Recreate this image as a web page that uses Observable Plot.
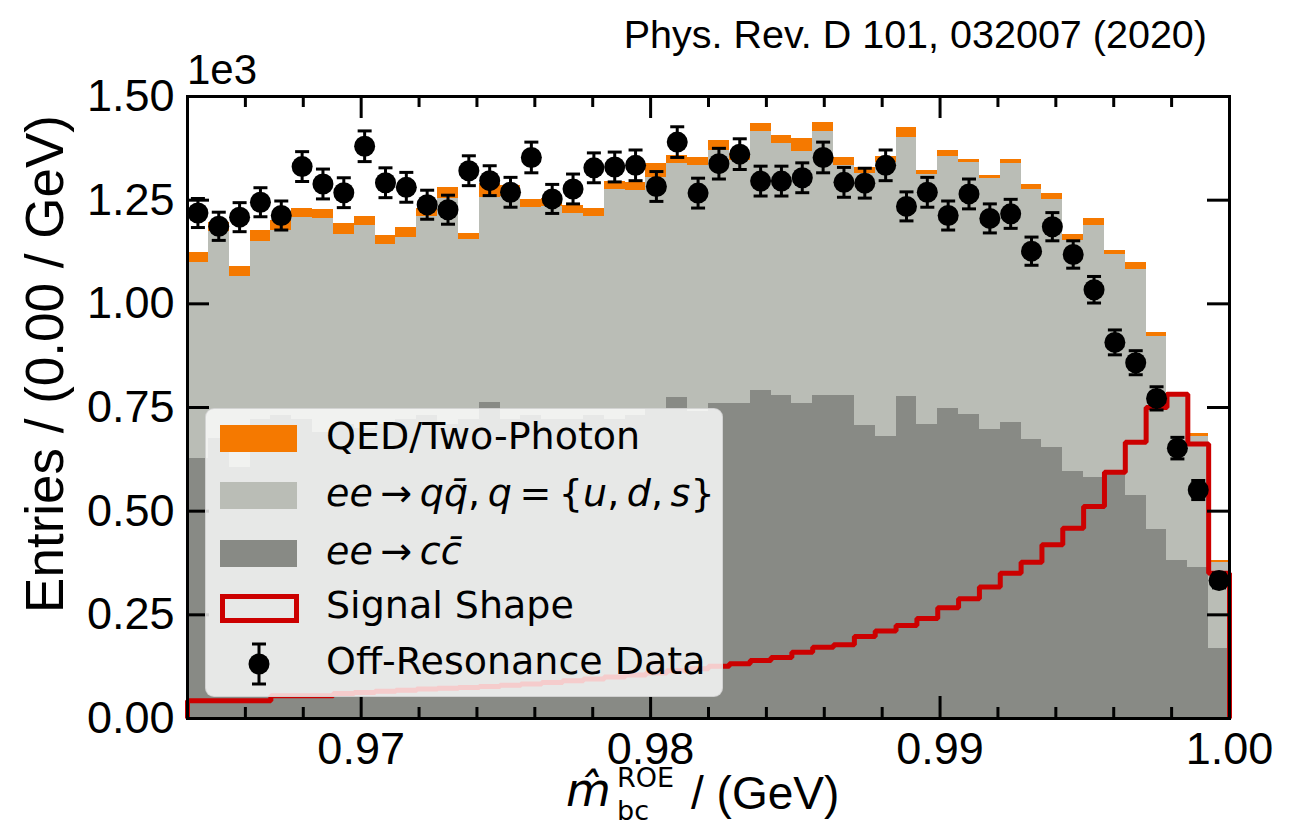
<!DOCTYPE html>
<html><head><meta charset="utf-8">
<script src="https://cdn.jsdelivr.net/npm/d3@7"></script>
<script src="https://cdn.jsdelivr.net/npm/@observablehq/plot@0.6"></script>
<style>
body{margin:0;background:#fff;}
#wrap{position:relative;width:1306px;height:838px;overflow:hidden;}
.ov{position:absolute;white-space:nowrap;color:#000;}
.sans{font-family:"Liberation Sans",Arial,sans-serif;}
.dv{font-family:"DejaVu Sans",sans-serif;}
.it{font-style:italic;}
#legend{position:absolute;left:205px;top:408px;width:518px;height:289px;box-sizing:border-box;background:rgba(255,255,255,0.8);border:1.5px solid rgba(204,204,204,0.8);border-radius:9px;}
.row{position:absolute;left:0;height:40px;width:100%;}
.sw{position:absolute;left:14px;top:6px;}
.lt{position:absolute;left:120px;top:-4px;font-family:"DejaVu Sans",sans-serif;font-size:38px;line-height:42px;white-space:nowrap;}
</style></head><body><div id="wrap"></div>
<script>
// histogram binning (x in GeV)
const binStart = 0.964;
const binWidth = 0.00072;
// stacked backgrounds, entries in units of 1e3 per bin
const ccBkg  = [0.627,0.675,0.606,0.720,0.730,0.720,0.690,0.710,0.700,0.710,0.720,0.730,0.710,0.720,0.763,0.720,0.730,0.720,0.720,0.730,0.720,0.730,0.745,0.775,0.740,0.760,0.760,0.791,0.779,0.760,0.779,0.778,0.707,0.681,0.777,0.709,0.747,0.733,0.698,0.713,0.673,0.653,0.596,0.582,0.590,0.538,0.456,0.381,0.363,0.170];
const qqBkg  = [0.472,0.500,0.460,0.431,0.447,0.489,0.515,0.456,0.489,0.433,0.441,0.481,0.543,0.434,0.494,0.538,0.503,0.515,0.499,0.480,0.556,0.543,0.560,0.564,0.594,0.610,0.585,0.624,0.608,0.608,0.637,0.556,0.608,0.660,0.625,0.602,0.609,0.607,0.605,0.626,0.602,0.599,0.557,0.607,0.529,0.546,0.466,0.401,0.317,0.207];
const qedBkg = [0.024,0.020,0.025,0.026,0.025,0.020,0.023,0.027,0.022,0.022,0.022,0.018,0.028,0.015,0.032,0.027,0.019,0.020,0.018,0.021,0.019,0.019,0.033,0.019,0.018,0.025,0.017,0.019,0.019,0.030,0.021,0.018,0.014,0.015,0.024,0.010,0.014,0.009,0.006,0.010,0.012,0.013,0.013,0.016,0.009,0.015,0.008,0.004,0.007,0.004];
const signal = [0.043,0.043,0.043,0.043,0.055,0.055,0.055,0.060,0.063,0.066,0.068,0.071,0.073,0.075,0.077,0.080,0.083,0.087,0.091,0.095,0.100,0.105,0.110,0.115,0.120,0.126,0.132,0.140,0.147,0.160,0.172,0.178,0.198,0.211,0.224,0.241,0.267,0.289,0.317,0.350,0.377,0.419,0.459,0.511,0.594,0.666,0.750,0.782,0.662,0.350];
const dataVals = [1.219,1.187,1.209,1.245,1.213,1.331,1.289,1.268,1.380,1.292,1.281,1.239,1.227,1.321,1.297,1.269,1.353,1.253,1.277,1.328,1.330,1.334,1.283,1.390,1.267,1.338,1.361,1.296,1.296,1.304,1.353,1.293,1.291,1.334,1.235,1.269,1.213,1.265,1.206,1.217,1.127,1.186,1.119,1.034,0.907,0.858,0.772,0.652,0.551,0.333];
const dataErr  = [0.035,0.034,0.035,0.035,0.035,0.036,0.036,0.036,0.037,0.036,0.036,0.035,0.035,0.036,0.036,0.036,0.037,0.035,0.036,0.036,0.036,0.037,0.036,0.037,0.036,0.037,0.037,0.036,0.036,0.036,0.037,0.036,0.036,0.037,0.035,0.036,0.035,0.036,0.035,0.035,0.034,0.034,0.033,0.032,0.030,0.029,0.028,0.026,0.023,0.018];
// axes
const xDomain = [0.964, 1.0];
const yDomain = [0, 1.5];
const xTicks = [0.97, 0.98, 0.99, 1.00];
const xMinorTicks = [0.966,0.968,0.972,0.974,0.976,0.978,0.982,0.984,0.986,0.988,0.992,0.994,0.996,0.998];
const yTicks = [0, 0.25, 0.5, 0.75, 1.0, 1.25, 1.5];
const colors = {qed: "#f57900", qq: "#babdb6", cc: "#888a85", sig: "#cc0000"};

// build tables
const rects = [];
const dataRows = [];
const sigPts = [{x: binStart, y: 0}];
ccBkg.forEach((c, i) => {
  const x1 = binStart + i * binWidth, x2 = binStart + (i + 1) * binWidth;
  const a = c, b = a + qqBkg[i], t = b + qedBkg[i];
  rects.push({x1, x2, y1: 0, y2: a, s: "cc"});
  rects.push({x1, x2, y1: a, y2: b, s: "qq"});
  rects.push({x1, x2, y1: b, y2: t, s: "qed"});
  sigPts.push({x: x1, y: signal[i]}, {x: x2, y: signal[i]});
  dataRows.push({x: (x1 + x2) / 2, v: dataVals[i], e: dataErr[i]});
});
sigPts.push({x: binStart + ccBkg.length * binWidth, y: 0});

const capSymbol = {draw(ctx, size) { const r = Math.sqrt(size / Math.PI); ctx.moveTo(-r, 0); ctx.lineTo(r, 0); }};

const W = 1306, H = 838, mL = 187, mR = 77, mT = 96, mB = 120;
const pw = W - mL - mR, ph = H - mT - mB;
const fmt = d3.format(".2f");

const chart = Plot.plot({
  width: W, height: H,
  marginLeft: mL, marginRight: mR, marginTop: mT, marginBottom: mB,
  style: {fontFamily: "'Liberation Sans', Arial, sans-serif", fontSize: "45px", color: "black", background: "white"},
  x: {domain: xDomain},
  y: {domain: yDomain},
  color: {domain: ["qed", "qq", "cc"], range: [colors.qed, colors.qq, colors.cc]},
  marks: [
    Plot.rect(rects, {x1: "x1", x2: "x2", y1: "y1", y2: "y2", fill: "s", shapeRendering: "crispEdges"}),
    Plot.line(sigPts, {x: "x", y: "y", stroke: colors.sig, strokeWidth: 5, strokeLinejoin: "miter", strokeLinecap: "butt"}),
    Plot.ruleX(dataRows, {x: "x", y1: d => d.v - d.e, y2: d => d.v + d.e, stroke: "black", strokeWidth: 3}),
    Plot.dot(dataRows, {x: "x", y: d => d.v + d.e, symbol: capSymbol, r: 7, stroke: "black", strokeWidth: 3}),
    Plot.dot(dataRows, {x: "x", y: d => d.v - d.e, symbol: capSymbol, r: 7, stroke: "black", strokeWidth: 3}),
    Plot.dot(dataRows, {x: "x", y: "v", r: 10.5, fill: "black"}),
    // inward ticks
    Plot.tickX(xTicks, {x: d => d, stroke: "black", strokeWidth: 3, insetTop: ph - 22}),
    Plot.tickX(xTicks, {x: d => d, stroke: "black", strokeWidth: 3, insetBottom: ph - 22}),
    Plot.tickX(xMinorTicks, {x: d => d, stroke: "black", strokeWidth: 3, insetTop: ph - 11}),
    Plot.tickX(xMinorTicks, {x: d => d, stroke: "black", strokeWidth: 3, insetBottom: ph - 11}),
    Plot.tickY(yTicks, {y: d => d, stroke: "black", strokeWidth: 3, insetRight: pw - 22}),
    Plot.tickY(yTicks, {y: d => d, stroke: "black", strokeWidth: 3, insetLeft: pw - 22}),
    Plot.frame({stroke: "black", strokeWidth: 3}),
    Plot.axisX(xTicks, {tickSize: 0, tickPadding: 14, tickFormat: fmt, label: null, fontSize: 45}),
    Plot.axisY(yTicks, {tickSize: 0, tickPadding: 13, tickFormat: fmt, label: null, fontSize: 45})
  ]
});

const wrap = document.getElementById("wrap");
wrap.appendChild(chart);

function ov(html, style) {
  const d = document.createElement("div");
  d.className = "ov";
  d.style.cssText = style;
  d.innerHTML = html;
  wrap.appendChild(d);
  return d;
}
// title and offset text
ov("Phys. Rev. D 101, 032007 (2020)", "right:99px;top:12px;font-size:39.5px;font-family:'Liberation Sans',Arial,sans-serif;");
ov("1e3", "left:187px;top:46px;font-size:42px;font-family:'Liberation Sans',Arial,sans-serif;");
// y label
ov("Entries / (0.00 / GeV)", "left:44px;top:364px;transform:translate(-50%,-50%) rotate(-90deg);font-size:53px;font-family:'Liberation Sans',Arial,sans-serif;");
// x label
ov("<span class='dv it' style='font-size:46px'>m&#770;</span>", "left:566px;top:762px;line-height:56px;");
ov("<span style='font-family:\"DejaVu Sans\";font-size:27px'>ROE</span>", "left:617px;top:766px;line-height:24px;");
ov("<span style='font-family:\"DejaVu Sans\";font-size:27px'>bc</span>", "left:617px;top:798px;line-height:26px;");
ov("<span class='sans' style='font-size:46px'>/ (GeV)</span>", "left:691px;top:766px;line-height:54px;");

// legend
const leg = document.createElement("div");
leg.id = "legend";
const th = "&#8201;";
const rowsCfg = [
  {top: 10, sw: `<svg width="77" height="28"><rect x="0" y="0" width="77" height="27" fill="${colors.qed}"/></svg>`, label: "QED/Two-Photon"},
  {top: 67, sw: `<svg width="77" height="28"><rect x="0" y="0" width="77" height="27" fill="${colors.qq}"/></svg>`, label: `<i>ee</i>${th}→${th}<i>q</i><i>q&#772;</i>,${th}<i>q</i>${th}=${th}{<i>u</i>,${th}<i>d</i>,${th}<i>s</i>}`},
  {top: 125, sw: `<svg width="77" height="28"><rect x="0" y="0" width="77" height="27" fill="${colors.cc}"/></svg>`, label: `<i>ee</i>${th}→${th}<i>c</i><i>c&#772;</i>`},
  {top: 179, sw: `<svg width="80" height="30"><rect x="2.5" y="2.5" width="74" height="24" fill="none" stroke="${colors.sig}" stroke-width="5"/></svg>`, label: "Signal Shape"},
  {top: 235, sw: `<svg width="80" height="46" style="position:relative;top:-9px"><line x1="39" y1="3" x2="39" y2="43" stroke="black" stroke-width="3"/><line x1="32" y1="3" x2="46" y2="3" stroke="black" stroke-width="3"/><line x1="32" y1="43" x2="46" y2="43" stroke="black" stroke-width="3"/><circle cx="39" cy="23" r="10.5" fill="black"/></svg>`, label: "Off-Resonance Data"}
];
rowsCfg.forEach(r => {
  const row = document.createElement("div");
  row.className = "row";
  row.style.top = r.top + "px";
  row.innerHTML = `<div class="sw">${r.sw}</div><div class="lt">${r.label}</div>`;
  leg.appendChild(row);
});
wrap.appendChild(leg);
</script></body></html>
